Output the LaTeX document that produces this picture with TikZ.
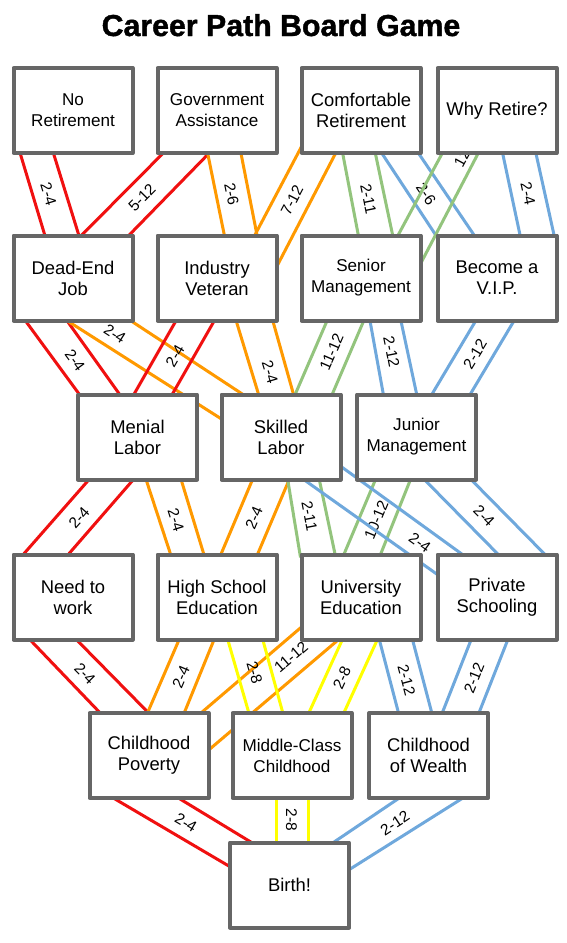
\documentclass[tikz,border=0pt]{standalone}
\usepackage{fontspec}
\setmainfont{Liberation Sans}
\newfontfamily\titlefont{Liberation Sans}[BoldFeatures={FakeBold=1.3}]
\definecolor{cred}{HTML}{F01010}
\definecolor{corange}{HTML}{FF9900}
\definecolor{cgreen}{HTML}{93C47D}
\definecolor{cblue}{HTML}{6FA8DC}
\definecolor{cyellow}{HTML}{FFFF00}
\definecolor{cgray}{HTML}{666666}
\pgfdeclarelayer{bg}
\pgfsetlayers{bg,main}
\tikzset{
  box/.style={draw=cgray, line width=4pt, fill=white, minimum width=119pt, minimum height=85pt,
    inner sep=0pt, align=center, line join=round, font=\fontsize{18.4}{21}\selectfont},
  smallbox/.style={box, font=\fontsize{17.1}{21}\selectfont},
  lane/.style={line width=3pt, shorten <=-5pt, shorten >=-5pt},
  lab/.style={font=\fontsize{15.5}{16}\selectfont, inner sep=0pt}
}
\newcommand{\lanepair}[5]{\draw[lane,#1] ([shift={#3}]#2.center) -- ([shift={#5}]#4.center);}
\begin{document}
\begin{tikzpicture}[x=1pt,y=-1pt]
\useasboundingbox (0,0) rectangle (566,943);
\node[font=\fontsize{30.3}{34}\selectfont\titlefont\bfseries, anchor=base] (title) at (281,36) {Career Path Board Game};

\node[smallbox] (nr) at (73,110.5) {No\\Retirement};
\node[smallbox] (ga) at (217,110.5) {Government\\Assistance};
\node[box] (cr) at (361,110.5) {Comfortable\\Retirement};
\node[box] (wr) at (497,110.5) {Why Retire?};
\node[box] (dj) at (73,278) {Dead-End\\Job};
\node[box] (iv) at (217,278) {Industry\\Veteran};
\node[smallbox] (sm) at (361,278) {Senior\\Management};
\node[box] (bv) at (497,278) {Become a\\V.I.P.};
\node[box] (ml) at (137.5,437) {Menial\\Labor};
\node[box] (sl) at (281,437) {Skilled\\Labor};
\node[smallbox] (jm) at (416.5,437) {Junior\\Management};
\node[box] (nw) at (73,597) {Need to\\work};
\node[box] (hs) at (217,597) {High School\\Education};
\node[box] (ue) at (361,597) {University\\Education};
\node[box] (ps) at (497,597) {Private\\Schooling};
\node[box] (cp) at (149,755.5) {Childhood\\Poverty};
\node[smallbox] (mc) at (292,755.5) {Middle-Class\\Childhood};
\node[box] (cw) at (428.5,755.5) {Childhood\\of Wealth};
\node[box] (bi) at (289.5,885) {Birth!};

\begin{pgfonlayer}{bg}
% gap 1
\lanepair{cred}{nr}{(-52.3,44.5)}{dj}{(-28.7,-44.5)}
\lanepair{cred}{nr}{(-19,44.5)}{dj}{(5.3,-44.5)}
\node[lab,rotate=-73] at (48.5,194) {2-4};
\lanepair{cred}{ga}{(-55.7,44.5)}{dj}{(10.3,-44.5)}
\lanepair{cred}{ga}{(-9.7,44.5)}{dj}{(57.7,-44.5)}
\node[lab,rotate=45.5] at (142,198) {5-12};
\lanepair{corange}{ga}{(-9,44.5)}{iv}{(7,-44.5)}
\lanepair{corange}{ga}{(24.3,44.5)}{iv}{(39.7,-44.5)}
\node[lab,rotate=-78.7] at (231.5,194) {2-6};
\lanepair{corange}{cr}{(-60.5,38)}{iv}{(38.7,-44.5)}
\lanepair{corange}{cr}{(-26.3,44.5)}{iv}{(59,-10)}
\node[lab,rotate=62.5] at (292,200) {7-12};
\lanepair{cgreen}{cr}{(-18,44.5)}{sm}{(-3,-44.5)}
\lanepair{cgreen}{cr}{(14.7,44.5)}{sm}{(31.3,-44.5)}
\node[lab,rotate=-78.4] at (368.5,199) {2-11};
\lanepair{cblue}{cr}{(22,44.5)}{bv}{(-62.3,-44.5)}
\lanepair{cblue}{cr}{(58.7,44.5)}{bv}{(-24,-44.5)}
\node[lab,rotate=-55.6] at (426,194) {2-6};
\lanepair{cgreen}{wr}{(-55.7,44.5)}{sm}{(38,-44.5)}
\lanepair{cgreen}{wr}{(-19.7,44.5)}{sm}{(58,-11.3)}
\node[lab,rotate=61.6] at (462,158) {12};
\lanepair{cblue}{wr}{(6,44.5)}{bv}{(22.7,-44.5)}
\lanepair{cblue}{wr}{(39.3,44.5)}{bv}{(56.7,-44.5)}
\node[lab,rotate=-77.6] at (528,193.5) {2-4};
% gap 2
\lanepair{cred}{dj}{(-46.3,44.5)}{ml}{(-59.5,-44.5)}
\lanepair{cred}{dj}{(-4.7,44.5)}{ml}{(-19.2,-44.5)}
\node[lab,rotate=-53.9] at (75,360) {2-4};
\lanepair{corange}{dj}{(-3,44.5)}{sl}{(-61.7,-19.4)}
\lanepair{corange}{dj}{(60.5,44.5)}{sl}{(-41,-44.5)}
\node[lab,rotate=-32.8] at (115,334) {2-4};
\lanepair{cred}{iv}{(-42,44.5)}{ml}{(-2.5,-44.5)}
\lanepair{cred}{iv}{(-3.7,44.5)}{ml}{(35.8,-44.5)}
\node[lab,rotate=59.9] at (175,356) {2-4};
\lanepair{corange}{iv}{(19.7,44.5)}{sl}{(-23,-44.5)}
\lanepair{corange}{iv}{(56.3,44.5)}{sl}{(12,-44.5)}
\node[lab,rotate=-73.3] at (270,372) {2-4};
\lanepair{cgreen}{sm}{(-34.7,44.5)}{sl}{(15,-44.5)}
\lanepair{cgreen}{sm}{(2,44.5)}{sl}{(52,-44.5)}
\node[lab,rotate=66.5] at (331.5,352) {11-12};
\lanepair{cblue}{sm}{(9.3,44.5)}{jm}{(-33.5,-44.5)}
\lanepair{cblue}{sm}{(40.3,44.5)}{jm}{(-0.2,-44.5)}
\node[lab,rotate=-78.7] at (391.5,352) {2-12};
\lanepair{cblue}{bv}{(-22.3,44.5)}{jm}{(16.5,-44.5)}
\lanepair{cblue}{bv}{(16,44.5)}{jm}{(54.8,-44.5)}
\node[lab,rotate=59] at (475,354) {2-12};
% gap 3
\lanepair{cred}{ml}{(-50.2,44.5)}{nw}{(-48,-44.5)}
\lanepair{cred}{ml}{(-5.8,44.5)}{nw}{(-3,-44.5)}
\node[lab,rotate=48.5] at (79,518) {2-4};
\lanepair{corange}{ml}{(9.2,44.5)}{hs}{(-47,-44.5)}
\lanepair{corange}{ml}{(44.2,44.5)}{hs}{(-13.7,-44.5)}
\node[lab,rotate=-72.3] at (176,520) {2-4};
\lanepair{corange}{sl}{(-29.3,44.5)}{hs}{(4.7,-44.5)}
\lanepair{corange}{sl}{(7.4,44.5)}{hs}{(41.3,-44.5)}
\node[lab,rotate=66.7] at (254,518) {2-4};
\lanepair{cgreen}{sl}{(7,44.5)}{ue}{(-61.3,-44.5)}
\lanepair{cgreen}{sl}{(38.7,44.5)}{ue}{(-26.3,-44.5)}
\node[lab,rotate=-79.2] at (309.5,516) {2-11};
\lanepair{cgreen}{jm}{(-41.8,44.5)}{ue}{(-16.3,-44.5)}
\lanepair{cgreen}{jm}{(-6.8,44.5)}{ue}{(20.3,-44.5)}
\node[lab,rotate=67.4] at (376.3,520) {10-12};
\lanepair{cblue}{sl}{(60.3,29.7)}{ps}{(-37.3,-44.5)}
\lanepair{cblue}{sl}{(25.5,44.5)}{ps}{(-61.3,-23.7)}
\node[lab,rotate=-35.5] at (420,543) {2-4};
\lanepair{cblue}{jm}{(9.8,44.5)}{ps}{(-0.7,-44.5)}
\lanepair{cblue}{jm}{(56.5,44.5)}{ps}{(46,-44.5)}
\node[lab,rotate=-45] at (484,516) {2-4};
% gap 4
\lanepair{cred}{nw}{(-41.3,44.5)}{cp}{(-50.7,-44.5)}
\lanepair{cred}{nw}{(5.3,44.5)}{cp}{(-2.3,-44.5)}
\node[lab,rotate=-45.3] at (85,674) {2-4};
\lanepair{corange}{hs}{(-38.7,44.5)}{cp}{(-0.7,-44.5)}
\lanepair{corange}{hs}{(-3.7,44.5)}{cp}{(36,-44.5)}
\node[lab,rotate=67] at (181,677) {2-4};
\lanepair{corange}{ue}{(-63,33)}{cp}{(54.3,-44.5)}
\lanepair{corange}{ue}{(-24.7,44.5)}{cp}{(61.7,-7.2)}
\node[lab,rotate=40.5] at (291,657) {11-12};
\lanepair{cyellow}{hs}{(11.3,44.5)}{mc}{(-43.7,-44.5)}
\lanepair{cyellow}{hs}{(46.3,44.5)}{mc}{(-9.7,-44.5)}
\node[lab,rotate=-74.1] at (254.5,673) {2-8};
\lanepair{cyellow}{ue}{(-19.5,44.5)}{mc}{(17.7,-44.5)}
\lanepair{cyellow}{ue}{(15.5,44.5)}{mc}{(52.7,-44.5)}
\node[lab,rotate=65.3] at (342,678) {2-8};
\lanepair{cblue}{ue}{(18.8,44.5)}{cw}{(-30.5,-44.5)}
\lanepair{cblue}{ue}{(52,44.5)}{cw}{(2.8,-44.5)}
\node[lab,rotate=-75.2] at (406.5,680) {2-12};
\lanepair{cblue}{ps}{(-26.6,44.5)}{cw}{(14.5,-44.5)}
\lanepair{cblue}{ps}{(10.1,44.5)}{cw}{(51.2,-44.5)}
\node[lab,rotate=68.2] at (474,678) {2-12};
% gap 5
\lanepair{cred}{cp}{(-32.3,44.5)}{bi}{(-61.2,-19.3)}
\lanepair{cred}{cp}{(32.7,44.5)}{bi}{(-41.2,-44.5)}
\node[lab,rotate=-30.5] at (186,823) {2-4};
\lanepair{cyellow}{mc}{(-15.3,44.5)}{bi}{(-12.8,-44.5)}
\lanepair{cyellow}{mc}{(16,44.5)}{bi}{(18.5,-44.5)}
\node[lab,rotate=-90] at (291.5,820) {2-8};
\lanepair{cblue}{cw}{(-32.2,44.5)}{bi}{(46.8,-44.5)}
\lanepair{cblue}{cw}{(31.2,44.5)}{bi}{(61.8,-16.7)}
\node[lab,rotate=33.2] at (395,823) {2-12};
\end{pgfonlayer}
\end{tikzpicture}
\end{document}
